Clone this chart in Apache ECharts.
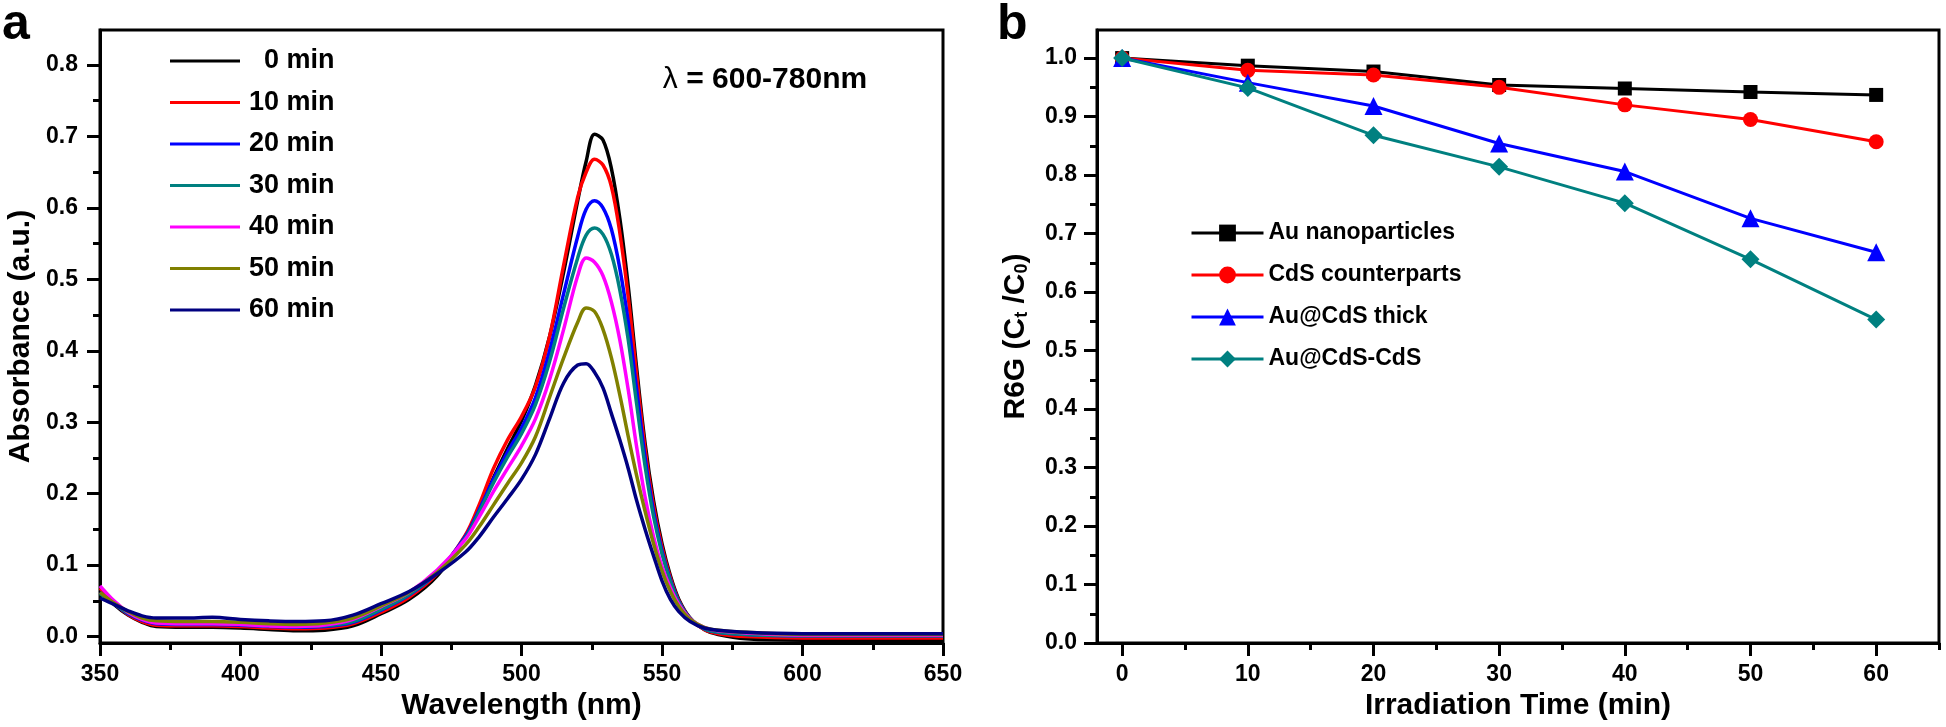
<!DOCTYPE html>
<html>
<head>
<meta charset="utf-8">
<script src="https://cdn.jsdelivr.net/npm/echarts@6/dist/echarts.min.js"></script>
<style>
html,body{margin:0;padding:0;background:#fff;}
#chart{width:1946px;height:727px;}
</style>
</head>
<body>
<div id="chart"></div>
<script>
// ---------- Panel a data ----------
const wavelengths = [350, 355, 360, 365, 370, 380, 390, 400, 410, 420, 430, 440, 450, 460, 470, 480, 485, 490, 495, 500, 505, 510, 515, 520, 523, 526, 529, 532, 535, 538, 541, 544, 547, 550, 553, 556, 560, 565, 570, 580, 600, 625, 650];
const abs0  = [0.065, 0.045, 0.030, 0.020, 0.014, 0.013, 0.013, 0.012, 0.010, 0.008, 0.009, 0.015, 0.032, 0.052, 0.085, 0.140, 0.178, 0.222, 0.263, 0.302, 0.352, 0.420, 0.510, 0.610, 0.665, 0.703, 0.695, 0.655, 0.585, 0.490, 0.375, 0.270, 0.190, 0.130, 0.085, 0.052, 0.026, 0.010, 0.003, -0.003, -0.005, -0.005, -0.005];
const abs10 = [0.068, 0.047, 0.031, 0.021, 0.016, 0.015, 0.015, 0.014, 0.012, 0.011, 0.012, 0.018, 0.034, 0.055, 0.088, 0.142, 0.185, 0.235, 0.275, 0.308, 0.350, 0.420, 0.520, 0.615, 0.650, 0.668, 0.660, 0.630, 0.565, 0.475, 0.365, 0.262, 0.183, 0.125, 0.082, 0.050, 0.025, 0.010, 0.004, 0.000, -0.002, -0.002, -0.002];
const abs20 = [0.062, 0.046, 0.032, 0.023, 0.018, 0.017, 0.017, 0.016, 0.014, 0.013, 0.014, 0.020, 0.037, 0.058, 0.090, 0.140, 0.178, 0.220, 0.258, 0.292, 0.335, 0.400, 0.480, 0.560, 0.598, 0.610, 0.600, 0.570, 0.515, 0.440, 0.345, 0.250, 0.175, 0.120, 0.079, 0.049, 0.025, 0.011, 0.006, 0.003, 0.001, 0.001, 0.001];
const abs30 = [0.060, 0.046, 0.033, 0.024, 0.019, 0.018, 0.018, 0.017, 0.015, 0.014, 0.015, 0.021, 0.038, 0.059, 0.090, 0.138, 0.175, 0.215, 0.251, 0.284, 0.325, 0.385, 0.460, 0.530, 0.562, 0.572, 0.563, 0.535, 0.485, 0.415, 0.325, 0.238, 0.168, 0.116, 0.077, 0.048, 0.025, 0.011, 0.006, 0.003, 0.001, 0.001, 0.001];
const abs40 = [0.071, 0.050, 0.034, 0.024, 0.019, 0.018, 0.018, 0.017, 0.015, 0.014, 0.016, 0.024, 0.042, 0.062, 0.093, 0.136, 0.168, 0.203, 0.235, 0.267, 0.305, 0.360, 0.430, 0.505, 0.530, 0.524, 0.505, 0.468, 0.415, 0.345, 0.265, 0.195, 0.140, 0.098, 0.068, 0.045, 0.025, 0.013, 0.008, 0.005, 0.002, 0.002, 0.002];
const abs50 = [0.062, 0.047, 0.035, 0.026, 0.022, 0.021, 0.021, 0.020, 0.018, 0.017, 0.019, 0.026, 0.043, 0.062, 0.090, 0.128, 0.154, 0.184, 0.214, 0.243, 0.280, 0.335, 0.390, 0.440, 0.460, 0.455, 0.430, 0.390, 0.338, 0.280, 0.225, 0.175, 0.130, 0.092, 0.063, 0.042, 0.024, 0.013, 0.009, 0.006, 0.003, 0.003, 0.003];
const abs60 = [0.054, 0.045, 0.036, 0.029, 0.026, 0.026, 0.027, 0.024, 0.022, 0.021, 0.022, 0.030, 0.046, 0.063, 0.088, 0.118, 0.140, 0.167, 0.193, 0.220, 0.255, 0.305, 0.355, 0.380, 0.382, 0.370, 0.348, 0.312, 0.275, 0.235, 0.190, 0.150, 0.113, 0.078, 0.052, 0.035, 0.021, 0.012, 0.009, 0.006, 0.004, 0.004, 0.004];
const specNames = ['0 min', '10 min', '20 min', '30 min', '40 min', '50 min', '60 min'];
const specColors = ['#000000', '#ff0000', '#0000ff', '#008080', '#ff00ff', '#808000', '#000080'];
const aXMajor = [350, 400, 450, 500, 550, 600, 650];
const aXMinor = [375, 425, 475, 525, 575, 625];
const aYMajor = [0, 0.1, 0.2, 0.3, 0.4, 0.5, 0.6, 0.7, 0.8];
const aYMinor = [0.05, 0.15, 0.25, 0.35, 0.45, 0.55, 0.65, 0.75];

// ---------- Panel b data ----------
const times = [0, 10, 20, 30, 40, 50, 60];
const auNP      = [1.000, 0.987, 0.977, 0.954, 0.948, 0.942, 0.937];
const cdsCount  = [1.000, 0.979, 0.971, 0.950, 0.920, 0.895, 0.857];
const auCdsThick= [1.000, 0.958, 0.918, 0.854, 0.806, 0.726, 0.668];
const auCdsCdS  = [1.000, 0.949, 0.868, 0.814, 0.752, 0.656, 0.553];
const rateNames = ['Au nanoparticles', 'CdS counterparts', 'Au@CdS thick', 'Au@CdS-CdS'];
const rateColors = ['#000000', '#ff0000', '#0000ff', '#008080'];
const rateSymbols = ['rect', 'circle', 'triangle', 'diamond'];
const rateSymbolSizes = [14, 15, 18, 18];
const bXMajor = [0, 10, 20, 30, 40, 50, 60];
const bXMinor = [5, 15, 25, 35, 45, 55, 65];
const bYMajor = [0, 0.1, 0.2, 0.3, 0.4, 0.5, 0.6, 0.7, 0.8, 0.9, 1.0];
const bYMinor = [0.05, 0.15, 0.25, 0.35, 0.45, 0.55, 0.65, 0.75, 0.85, 0.95];

const FONT = "'Liberation Sans', Arial, Helvetica, sans-serif";
const chart = echarts.init(document.getElementById('chart'), null, {renderer: 'canvas'});

const gridA = {left: 100, top: 30, width: 843, height: 613};
const gridB = {left: 1097, top: 30, width: 842, height: 613};

function mainAxis(type, gridIndex, min, max, major, fmt, nameOpts, labelMargin) {
  return Object.assign({
    type: 'value', gridIndex: gridIndex, min: min, max: max,
    axisLine: {show: true, onZero: false, lineStyle: {color: '#000', width: 3}},
    axisTick: {show: true, customValues: major, length: 13, inside: false, lineStyle: {color: '#000', width: 3}},
    axisLabel: {show: true, customValues: major, formatter: fmt, margin: labelMargin,
      color: '#000', fontSize: 23, fontWeight: 'bold', fontFamily: FONT},
    splitLine: {show: false},
    nameLocation: 'middle',
    nameTextStyle: {color: '#000', fontSize: 30, fontWeight: 'bold', fontFamily: FONT}
  }, nameOpts);
}
function minorAxis(gridIndex, min, max, minor) {
  return {
    type: 'value', gridIndex: gridIndex, min: min, max: max,
    axisLine: {show: false, onZero: false},
    axisTick: {show: true, customValues: minor, length: 7, inside: false, lineStyle: {color: '#000', width: 3}},
    axisLabel: {show: false},
    splitLine: {show: false}
  };
}

const series = [];
const specData = [abs0, abs10, abs20, abs30, abs40, abs50, abs60];
specData.forEach(function (arr, k) {
  series.push({
    name: specNames[k], type: 'line', xAxisIndex: 0, yAxisIndex: 0,
    data: wavelengths.map(function (w, i) { return [w, arr[i]]; }),
    smooth: 0.35, symbol: 'none', showSymbol: false,
    color: specColors[k],
    lineStyle: {color: specColors[k], width: 3.5},
    clip: true, z: 2 + k
  });
});
const rateData = [auNP, cdsCount, auCdsThick, auCdsCdS];
rateData.forEach(function (arr, k) {
  series.push({
    name: rateNames[k], type: 'line', xAxisIndex: 2, yAxisIndex: 2,
    data: times.map(function (t, i) { return [t, arr[i]]; }),
    symbol: rateSymbols[k], symbolSize: rateSymbolSizes[k], showSymbol: true,
    color: rateColors[k],
    itemStyle: {color: rateColors[k]},
    lineStyle: {color: rateColors[k], width: 3},
    clip: false, z: 2 + k
  });
});

const option = {
  animation: false,
  backgroundColor: '#fff',
  grid: [
    Object.assign({show: true, borderColor: '#000', borderWidth: 3, backgroundColor: 'transparent', outerBoundsMode: 'none', containLabel: false}, gridA),
    Object.assign({show: false, outerBoundsMode: 'none', containLabel: false}, gridA),
    Object.assign({show: true, borderColor: '#000', borderWidth: 3, backgroundColor: 'transparent', outerBoundsMode: 'none', containLabel: false}, gridB),
    Object.assign({show: false, outerBoundsMode: 'none', containLabel: false}, gridB)
  ],
  xAxis: [
    mainAxis('x', 0, 350, 650, aXMajor, function (v) { return String(v); }, {position: 'bottom', name: 'Wavelength (nm)', nameGap: 48}, 20),
    Object.assign(minorAxis(1, 350, 650, aXMinor), {position: 'bottom'}),
    mainAxis('x', 2, -2, 65, bXMajor, function (v) { return String(v); }, {position: 'bottom', name: 'Irradiation Time (min)', nameGap: 48}, 20),
    Object.assign(minorAxis(3, -2, 65, bXMinor), {position: 'bottom'})
  ],
  yAxis: [
    mainAxis('y', 0, -0.009, 0.849, aYMajor, function (v) { return v.toFixed(1); }, {position: 'left', name: 'Absorbance (a.u.)', nameGap: 64}, 22),
    Object.assign(minorAxis(1, -0.009, 0.849, aYMinor), {position: 'left'}),
    mainAxis('y', 2, 0, 1.048, bYMajor, function (v) { return v.toFixed(1); }, {position: 'left', name: 'R6G (C{s|t} /C{s|0})', nameGap: 66,
      nameTextStyle: {color: '#000', fontSize: 30, fontWeight: 'bold', fontFamily: FONT,
        rich: {s: {fontSize: 18, fontWeight: 'bold', fontFamily: FONT, color: '#000', padding: [12, 0, 0, 0]}}}}, 20),
    Object.assign(minorAxis(3, 0, 1.048, bYMinor), {position: 'left'})
  ],
  legend: [
    {
      data: specNames.map(function (n) { return {name: n, icon: 'rect'}; }),
      orient: 'vertical', left: 170, top: 46, padding: 0,
      itemWidth: 70, itemHeight: 3, itemGap: 11.5,
      selectedMode: false,
      formatter: function (n) { return n === '0 min' ? '  0 min' : n; },
      textStyle: {color: '#000', fontSize: 27, fontWeight: 'bold', fontFamily: FONT, lineHeight: 30, padding: [0, 0, 0, 4]}
    },
    {
      data: rateNames,
      orient: 'vertical', left: 1190, top: 221, padding: 0,
      itemWidth: 72, itemHeight: 21, itemGap: 18,
      selectedMode: false,
      lineStyle: {width: 3},
      textStyle: {color: '#000', fontSize: 23, fontWeight: 'bold', fontFamily: FONT, lineHeight: 24}
    }
  ],
  graphic: [
    {type: 'text', left: 2, top: 0, style: {text: 'a', fontSize: 50, fontWeight: 'bold', fontFamily: FONT, fill: '#000'}},
    {type: 'text', left: 997, top: 0, style: {text: 'b', fontSize: 50, fontWeight: 'bold', fontFamily: FONT, fill: '#000'}},
    {type: 'text', x: 765, y: 80, style: {
      text: '{l|λ} = 600-780nm', fontSize: 30, fontWeight: 'bold', fontFamily: FONT, fill: '#000',
      align: 'center', verticalAlign: 'middle',
      rich: {l: {fontSize: 30, fontWeight: 'normal', fontFamily: FONT, fill: '#000'}}}}
  ],
  series: series
};
chart.setOption(option);
</script>
</body>
</html>
